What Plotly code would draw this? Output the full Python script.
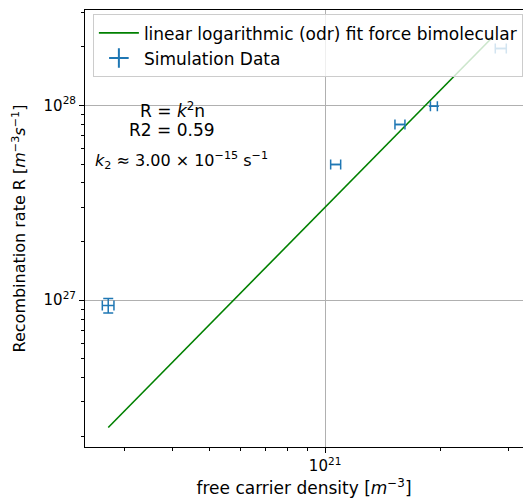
import plotly.graph_objects as go
import numpy as np

# Data
density = [2.72e20, 1.066e21, 1.568e21, 1.922e21, 2.873e21]
density_err = [0.095e20, 0.032e21, 0.047e21, 0.04e21, 0.095e21]
rate = [9.4e26, 4.98e27, 7.99e27, 9.9e27, 1.96e28]
rate_err = [0.8e26, 0.0, 0.0, 0.0, 0.0]

k2 = 3.00e-15
fit_n = [2.72e20, 2.74e21]
r_squared = 0.59

x_tickvals = [1e21]
x_ticktext = ["10<sup>21</sup>"]
y_tickvals = [1e27, 1e28]
y_ticktext = ["10<sup>27</sup>", "10<sup>28</sup>"]

blue = "#1f77b4"
green = "#008000"
FONT = "DejaVu Sans"

fit_x = np.array(fit_n)
fit_y = k2 * fit_x ** 2

fig = go.Figure()
fig.add_trace(go.Scatter(
    x=fit_x, y=fit_y, mode="lines", line=dict(color=green, width=1.6),
    name="linear logarithmic (odr) fit force bimolecular"))
fig.add_trace(go.Scatter(
    x=density, y=rate, mode="markers", marker=dict(size=0.1, color=blue, opacity=0),
    error_x=dict(type="data", array=density_err, color=blue, thickness=1.5, width=5),
    error_y=dict(type="data", array=rate_err, color=blue, thickness=1.5, width=5),
    showlegend=False))
fig.add_trace(go.Scatter(
    x=[None], y=[None], mode="markers", name="Simulation Data",
    marker=dict(symbol="cross-thin", size=14, line=dict(color=blue, width=2), color=blue)))

minor_x = [float(m) * 10.0 ** e for e in (20, 21) for m in range(2, 10)]
minor_y = [float(m) * 10.0 ** e for e in (26, 27, 28) for m in range(2, 10)]

fig.update_xaxes(
    type="log", range=[20.374, 21.516],
    tickvals=x_tickvals, ticktext=x_ticktext,
    ticks="outside", ticklen=5, tickcolor="#000", tickwidth=1,
    showgrid=True, gridcolor="#b0b0b0", gridwidth=1,
    showline=True, linecolor="#000", linewidth=1, mirror=True,
    zeroline=False,
    minor=dict(tickvals=minor_x, ticks="outside", ticklen=3, tickcolor="#000", showgrid=False),
    title=dict(text="free carrier density [<i>m</i><sup>−3</sup>]", font=dict(size=17, color="#000"), standoff=8),
    tickfont=dict(size=15, color="#000"))
fig.update_yaxes(
    type="log", range=[26.246, 28.49],
    tickvals=y_tickvals, ticktext=y_ticktext,
    ticks="outside", ticklen=5, tickcolor="#000", tickwidth=1,
    showgrid=True, gridcolor="#b0b0b0", gridwidth=1,
    showline=True, linecolor="#000", linewidth=1, mirror=False,
    zeroline=False,
    minor=dict(tickvals=minor_y, ticks="outside", ticklen=3, tickcolor="#000", showgrid=False),
    title=dict(text="Recombination rate R [<i>m</i><sup>−3</sup><i>s</i><sup>−1</sup>]", font=dict(size=16, color="#000"), standoff=13),
    tickfont=dict(size=15, color="#000"))

fig.add_annotation(x=0.199, y=0.802, xref="paper", yref="paper", showarrow=False, xanchor="center",
                   text="R = <i>k</i><sup>2</sup>n", font=dict(size=17, color="#000"))
fig.add_annotation(x=0.199, y=0.752, xref="paper", yref="paper", showarrow=False, xanchor="center",
                   text=f"R2 = {r_squared:.2f}", font=dict(size=17, color="#000"))
fig.add_annotation(x=0.018, y=0.656, xref="paper", yref="paper", showarrow=False, xanchor="left",
                   text="<i>k</i><sub>2</sub> ≈ 3.00 × 10<sup>−15</sup> s<sup>−1</sup>",
                   font=dict(size=16, color="#000"))

fig.update_layout(
    width=523, height=504,
    margin=dict(l=85, r=0, t=10, b=57),
    paper_bgcolor="white", plot_bgcolor="white",
    font=dict(family=FONT, color="#000"),
    legend=dict(x=0.018, y=0.99, xanchor="left", yanchor="top",
                bgcolor="rgba(255,255,255,0.8)", bordercolor="#cccccc", borderwidth=1,
                font=dict(size=17, color="#000"), tracegroupgap=0, itemwidth=40),
    showlegend=True)

fig.write_html("out.html")
